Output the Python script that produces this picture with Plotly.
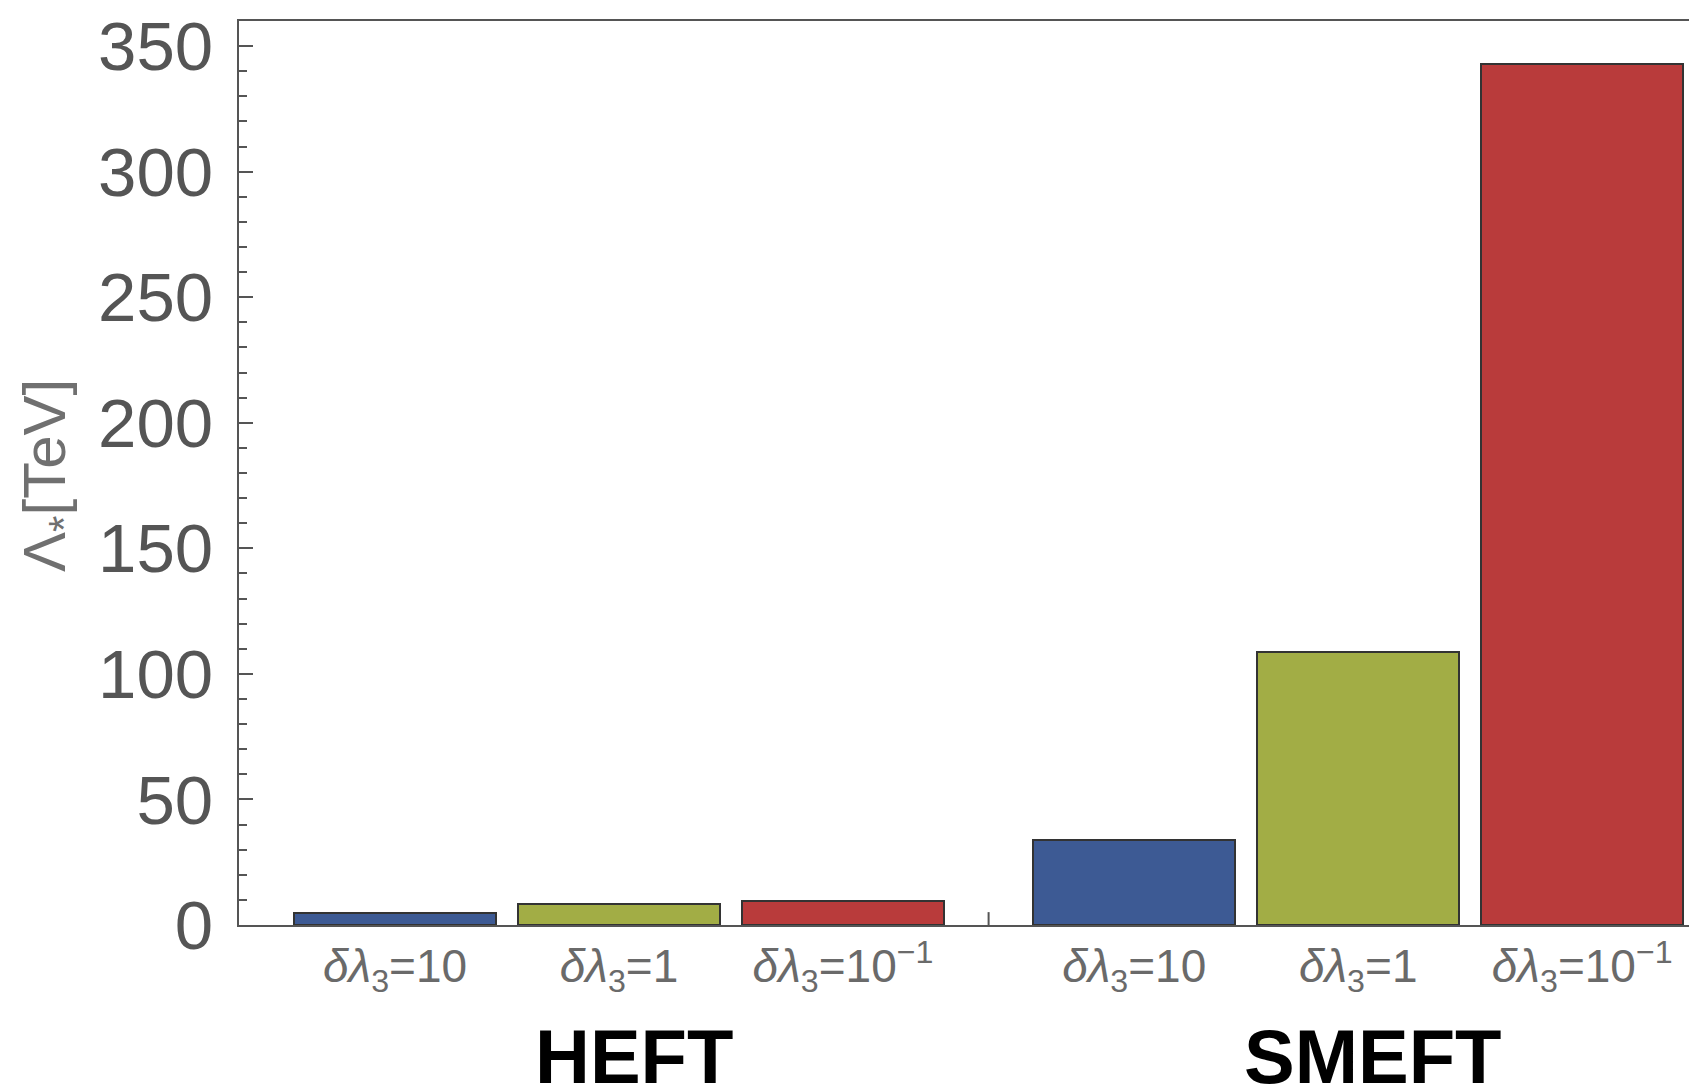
import plotly.graph_objects as go

# ---- data ----
groups = ["HEFT", "SMEFT"]
categories = ["δλ3=10", "δλ3=1", "δλ3=10^-1"]
tick_labels = [
    "<i>δλ</i><sub>3</sub>=10",
    "<i>δλ</i><sub>3</sub>=1",
    "<i>δλ</i><sub>3</sub>=10<sup>−1</sup>",
]
heft_values = [4.7, 8.5, 9.6]
smeft_values = [34.0, 108.7, 343.0]
bar_colors = ["#3d5a94", "#a2ad45", "#b93b3b"]
y_tick_values = [0, 50, 100, 150, 200, 250, 300, 350]

series = [heft_values, smeft_values]

# page body has an 8px margin; compensate so the figure fills the window
BODY = 8
W, H = 1697 - BODY, 1089 - BODY
left, right, top, bottom = 239 - BODY, 0, 13 - BODY, 164
plot_w = W - left - right
plot_h = H - top - bottom

group_gap = 0.3
n = len(categories)
xs, ys, cols, texts = [], [], [], []
centers = []
for g, vals in enumerate(series):
    base = 1 + g * (n + group_gap)
    centers.append(base + (n - 1) / 2)
    for i, v in enumerate(vals):
        xs.append(base + i)
        ys.append(v)
        cols.append(bar_colors[i])
        texts.append(tick_labels[i])

px_per_unit = 224.0
x0 = 1 - (395 - 239) / px_per_unit
x1 = x0 + plot_w / px_per_unit

fig = go.Figure()
fig.add_trace(go.Bar(
    x=xs, y=ys, width=0.9,
    marker=dict(color=cols, line=dict(color="#333333", width=2)),
    showlegend=False, hoverinfo="x+y",
))

axis_color = "#555555"
fig.update_layout(
    width=W, height=H,
    margin=dict(l=left, r=right, t=top, b=bottom, pad=0),
    plot_bgcolor="white", paper_bgcolor="white",
    font=dict(family="Liberation Sans, Arial, sans-serif"),
    bargap=0,
    xaxis=dict(
        range=[x0, x1],
        tickvals=xs, ticktext=texts,
        ticks="", showgrid=False, zeroline=False,
        showline=True, linecolor=axis_color, linewidth=2, mirror=True,
        tickfont=dict(size=46, color="#6a6a6a"),
        ticklabeloverflow="allow",
    ),
    yaxis=dict(
        range=[0, 360],
        tickvals=y_tick_values,
        ticks="inside", ticklen=14, tickwidth=2, tickcolor=axis_color,
        minor=dict(dtick=10, ticks="inside", ticklen=8, tickwidth=1.5,
                   tickcolor=axis_color, showgrid=False),
        showgrid=False, zeroline=False,
        showline=True, linecolor=axis_color, linewidth=2, mirror=False,
        tickfont=dict(size=69, color="#555555"),
        ticklabelstandoff=10,
        ticklabeloverflow="allow",
    ),
)

# divider tick between the two groups
mid = (xs[n - 1] + xs[n]) / 2
fig.add_shape(type="line", xref="x", yref="paper", x0=mid, x1=mid,
              y0=0, y1=13 / plot_h,
              line=dict(color=axis_color, width=2))

# y-axis title
fig.add_annotation(
    text="Λ<sub>*</sub>[TeV]", textangle=-90,
    xref="paper", yref="paper",
    x=(49 - 239) / plot_w, y=(925 - 472) / plot_h,
    xanchor="center", yanchor="middle", showarrow=False,
    font=dict(size=60, color="#707070"),
)

# group labels
for g, name in enumerate(groups):
    fig.add_annotation(
        text="<b>" + name + "</b>", xref="x", yref="paper",
        x=centers[g], xshift=15,
        y=-(1013 - 925) / plot_h, yanchor="top",
        showarrow=False, font=dict(size=76, color="black"),
    )

fig.write_html("out.html")
